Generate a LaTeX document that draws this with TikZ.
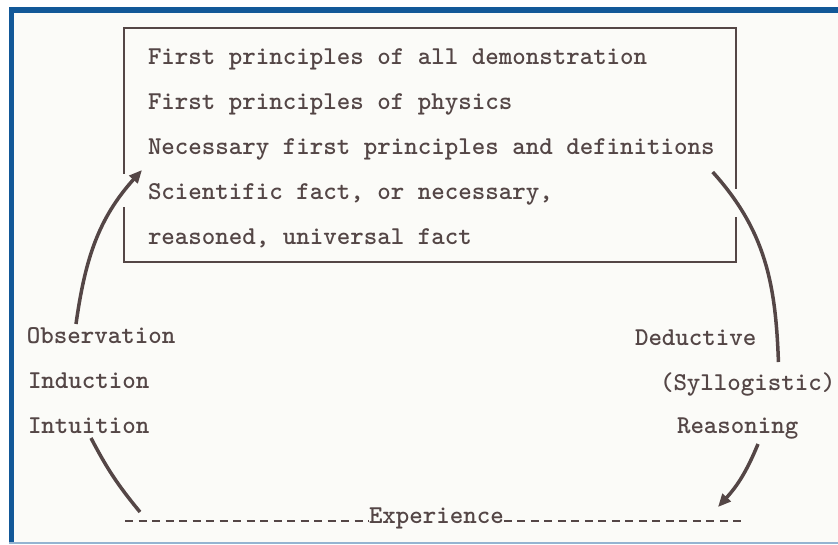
\documentclass[tikz,border=0pt]{standalone}
\usepackage{fontspec}
\newfontfamily\typewr{lmmonolt10-bold.otf}
\usetikzlibrary{calc,
arrows.meta,
positioning}
\definecolor{ink}{RGB}{84,70,70}
\definecolor{frameblue}{RGB}{18,88,152}
\definecolor{paper}{RGB}{251,251,248}

\begin{document}
\begin{tikzpicture} [x = 1pt, y = 1pt,
  >={Triangle[width = 11pt, length = 13pt]},
  draw = ink,
  line width = 3.5pt,
  text node/.style={inner sep = 0, outer sep = 0, anchor = base west,
      text = ink, font = \typewr\fontsize{25.7}{30}\selectfont},
  box line/.style={line width = 2.2pt, line cap = rect},
  hyphen line/.style={line width = 2pt, dash pattern = on 8pt off 5.5pt}]

  \useasboundingbox (0, 0) rectangle (838, -544);

  % scanned sheet and its frame
  \fill [white] (0, 0) rectangle (838, -544);
  \fill [paper] (14, -13) rectangle (838, -542);
  \fill [frameblue] (9, -7) rectangle (838, -13);
  \fill [frameblue] (9, -7) rectangle (14, -544);
  \fill [frameblue!45] (9, -542) rectangle (838, -544);

  \node [text node] (allDemo) at (148, -64) {First principles of all demonstration};
  \node [text node] (physics) at ($(allDemo.base west) + (0, -45)$) {First principles of physics};
  \node [text node] (necessary) at ($(physics.base west) + (0, -45)$) {Necessary first principles and definitions};
  \node [text node] (scifact) at ($(necessary.base west) + (0, -45)$) {Scientific fact, or necessary,};
  \node [text node] (reasoned) at ($(scifact.base west) + (0, -45)$) {reasoned, universal fact};

  \coordinate (boxNE) at (736, -28);
  \coordinate (boxSE) at (736, -262);
  \draw [box line] (124, -173) |- (boxNE) -- ($(boxNE) + (0, -160)$);
  \draw [box line] (124, -208) |- (boxSE) -- ($(boxSE) + (0, 44)$);

  \node [text node] (obs) at (27, -343) {Observation};
  \node [text node] (induct) at ($(obs.base west) + (1, -45)$) {Induction};
  \node [text node] (intuit) at ($(induct.base west) + (0, -45)$) {Intuition};

  \node [text node] (deduct) at (635, -345) {Deductive};
  \node [text node] (syllog) at ($(deduct.base west) + (25, -45)$) {(Syllogistic)};
  \node [text node] (reason) at ($(deduct.base west) + (42, -88)$) {Reasoning};

  \node [text node] (exper) at (369, -523) {Experience};
  \coordinate (expL) at (125, -517);
  \coordinate (expR) at (745, -517);
  \draw [hyphen line] (expL |- exper.mid west) -- (exper.mid west);
  \draw [hyphen line] (exper.mid east) -- (expR |- exper.mid east);

  \coordinate (upTip) at (142, -170);
  \coordinate (leftFoot) at (140, -512);
  \coordinate (rightFoot) at (718, -507);

  \draw [->] ($(obs.base west) + (49, 19)$) to [out = 82, in = 228] (upTip);
  \draw ($(necessary.base east) + (-2, -18)$) to [out = -48, in = 92] ($(deduct.base east) + (22, -17)$);
  \draw ($(intuit.base west) + (63, -5)$) to [bend right = 6] (leftFoot);
  \draw [->] ($(reason.base west) + (81, -11)$) to [bend left = 10] (rightFoot);

\end{tikzpicture}
\end{document}
